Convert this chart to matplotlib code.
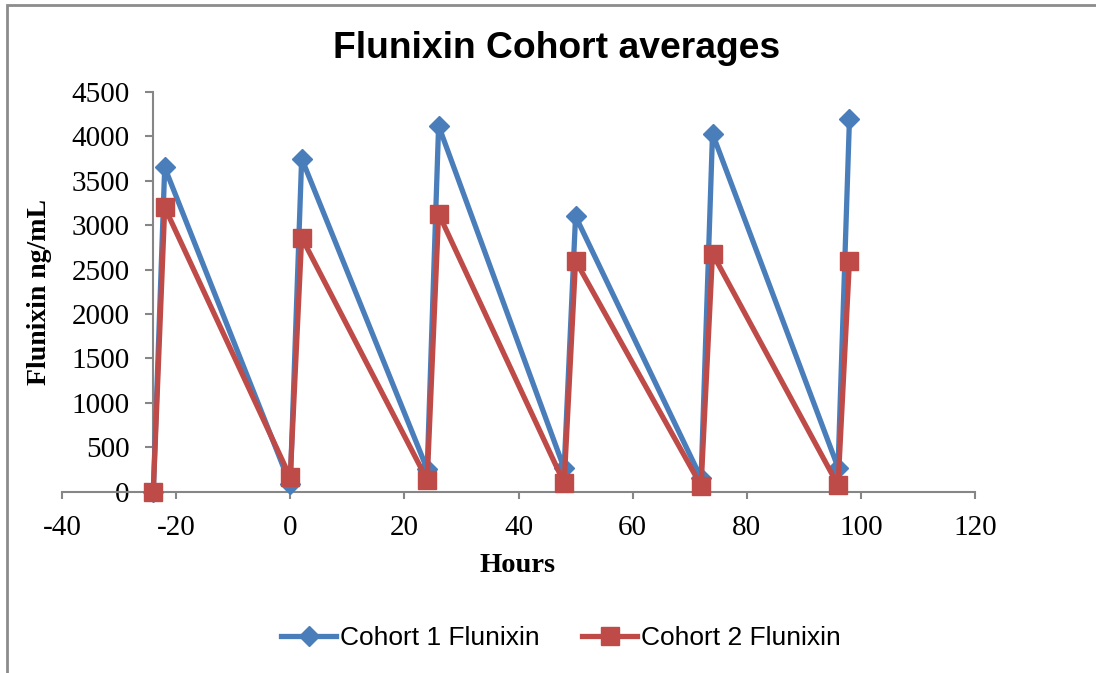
import matplotlib.pyplot as plt
from matplotlib.patches import Rectangle

plt.rcParams['axes.unicode_minus'] = False

# sampling times (hours) and mean flunixin concentration per cohort
hours = [-24, -22, 0, 2, 24, 26, 48, 50, 72, 74, 96, 98]
cohort1 = [0, 3650, 80, 3750, 250, 4120, 260, 3100, 150, 4030, 270, 4200]
cohort2 = [0, 3200, 160, 2860, 130, 3130, 95, 2600, 65, 2680, 70, 2600]

blue = '#4A7EBB'
red = '#BE4B48'
axis_grey = '#868686'

fig = plt.figure(figsize=(10.96, 6.73), dpi=100)
W, H = 1096, 673
ax = fig.add_axes([62 / W, (H - 491.5) / H, (975 - 62) / W, (491.5 - 92) / H])

ax.plot(hours, cohort1, color=blue, lw=3.8, marker='D', ms=10.5, mec=blue, mfc=blue,
        label='Cohort 1 Flunixin', clip_on=False, zorder=3)
ax.plot(hours, cohort2, color=red, lw=3.8, marker='s', ms=13.5, mec=red, mfc=red,
        label='Cohort 2 Flunixin', clip_on=False, zorder=4)

ax.set_xlim(-40, 120)
ax.set_ylim(0, 4500)
ax.set_xticks(range(-40, 121, 20))
ax.set_yticks(range(0, 4501, 500))

# Excel style axes: y axis crossing at the first sample, x axis at zero
for s in ['top', 'right']:
    ax.spines[s].set_visible(False)
ax.spines['left'].set_position(('data', -24))
ax.spines['left'].set_color(axis_grey)
ax.spines['bottom'].set_color(axis_grey)
ax.spines['left'].set_linewidth(1.5)
ax.spines['bottom'].set_linewidth(1.5)

serif = 'Liberation Serif'
ax.tick_params(axis='y', direction='out', length=6, width=1.5, color=axis_grey, pad=11)
ax.tick_params(axis='x', direction='out', length=5, width=1.5, color=axis_grey, pad=12)
for lab in ax.get_xticklabels() + ax.get_yticklabels():
    lab.set_fontfamily(serif)
    lab.set_fontsize(21)

fig.text(518 / W, 1 - 565 / H, 'Hours', ha='center', va='center',
         fontfamily=serif, fontweight='bold', fontsize=20.5)
fig.text(40 / W, 1 - 292 / H, 'Flunixin ng/mL', ha='center', va='center', rotation=90,
         fontfamily=serif, fontweight='bold', fontsize=20)
fig.text(557 / W, 1 - 48 / H, 'Flunixin Cohort averages', ha='center', va='center',
         fontfamily='Liberation Sans', fontweight='bold', fontsize=26.8)

fig.legend(loc='center', bbox_to_anchor=(561 / W, 1 - 638 / H), ncol=2, frameon=False,
           prop={'family': 'Liberation Sans', 'size': 19}, handlelength=2.1,
           handletextpad=0.15, columnspacing=1.6, markerscale=1.0)

# chart area frame
fig.patches.append(Rectangle((7 / W, -0.1), 1.2, 1 - 5 / H + 0.1, transform=fig.transFigure,
                             fill=False, ec='#8C8C8C', lw=2))

fig.savefig('out.png', dpi=100)
